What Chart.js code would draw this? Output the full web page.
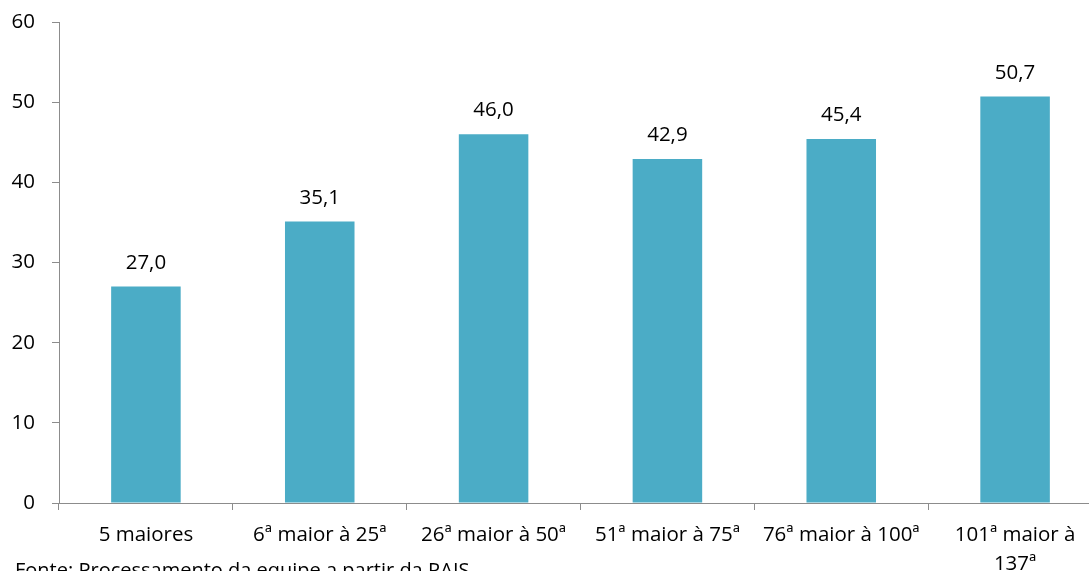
<!DOCTYPE html>
<html>
<head>
<meta charset="utf-8">
<script src="https://cdn.jsdelivr.net/npm/chart.js@4/dist/chart.umd.min.js"></script>
<style>
  html, body { margin: 0; padding: 0; background: #fff; width: 1089px; height: 571px; overflow: hidden; position: relative; }
  #wrap { position: absolute; left: 0; top: 0; width: 1110px; height: 571px; }
  #fonte { position: absolute; left: 15px; top: 558px; font-family: "Open Sans", sans-serif; font-size: 20px; line-height: 24px; color: #000; white-space: nowrap; }
</style>
</head>
<body>
<div id="wrap"><canvas id="c" width="1110" height="571"></canvas></div>
<div id="fonte">Fonte: Processamento da equipe a partir da RAIS</div>
<script>
// Faixas de municípios por posição no ranking
const categories = [
  "5 maiores",
  "6ª maior à 25ª",
  "26ª maior à 50ª",
  "51ª maior à 75ª",
  "76ª maior à 100ª",
  ["101ª maior à", "137ª"]
];
const values = [27.0, 35.1, 46.0, 42.9, 45.4, 50.7];
const yTicks = [0, 10, 20, 30, 40, 50, 60];

const FONT = { family: "'Open Sans', sans-serif", size: 20.5, lineHeight: 1.4 };
const AXIS_GRAY = "#8c8c8c";

// Rótulos de valor acima das barras, formato brasileiro (vírgula decimal)
const valueLabels = {
  id: "valueLabels",
  afterDatasetsDraw(chart) {
    const ctx = chart.ctx;
    const meta = chart.getDatasetMeta(0);
    ctx.save();
    ctx.font = FONT.size + "px " + FONT.family;
    ctx.fillStyle = "#000";
    ctx.textAlign = "center";
    ctx.textBaseline = "alphabetic";
    meta.data.forEach((bar, i) => {
      const txt = values[i].toFixed(1).replace(".", ",");
      ctx.fillText(txt, bar.x, bar.y - 18);
    });
    ctx.restore();
  }
};

new Chart(document.getElementById("c"), {
  type: "bar",
  data: {
    labels: categories,
    datasets: [{
      data: values,
      backgroundColor: "#4bacc6",
      borderWidth: 0,
      barPercentage: 0.4,
      categoryPercentage: 1.0
    }]
  },
  options: {
    responsive: false,
    devicePixelRatio: 1,
    animation: false,
    layout: { padding: { top: 22, right: 8, bottom: 0, left: 0 } },
    plugins: { legend: { display: false }, tooltip: { enabled: false } },
    scales: {
      x: {
        offset: true,
        grid: {
          offset: true,
          drawOnChartArea: false,
          drawTicks: true,
          tickLength: 7,
          tickColor: AXIS_GRAY
        },
        border: { color: AXIS_GRAY, width: 1 },
        ticks: {
          font: FONT,
          color: "#000",
          padding: 11,
          maxRotation: 0,
          autoSkip: false
        },
        afterFit(scale) {
          scale.height = 68;
          scale.paddingLeft = 0;
          scale.paddingRight = 0;
        }
      },
      y: {
        min: 0,
        max: 60,
        afterBuildTicks(scale) { scale.ticks = yTicks.map(v => ({ value: v })); },
        grid: {
          drawOnChartArea: false,
          drawTicks: true,
          tickLength: 7,
          tickColor: AXIS_GRAY
        },
        border: { color: AXIS_GRAY, width: 1 },
        ticks: {
          font: { family: FONT.family, size: FONT.size, lineHeight: 1.2 },
          color: "#000",
          padding: 17
        },
        afterFit(scale) {
          scale.width = 59;
          scale.paddingTop = 0;
          scale.paddingBottom = 0;
        }
      }
    }
  },
  plugins: [valueLabels]
});
</script>
</body>
</html>
